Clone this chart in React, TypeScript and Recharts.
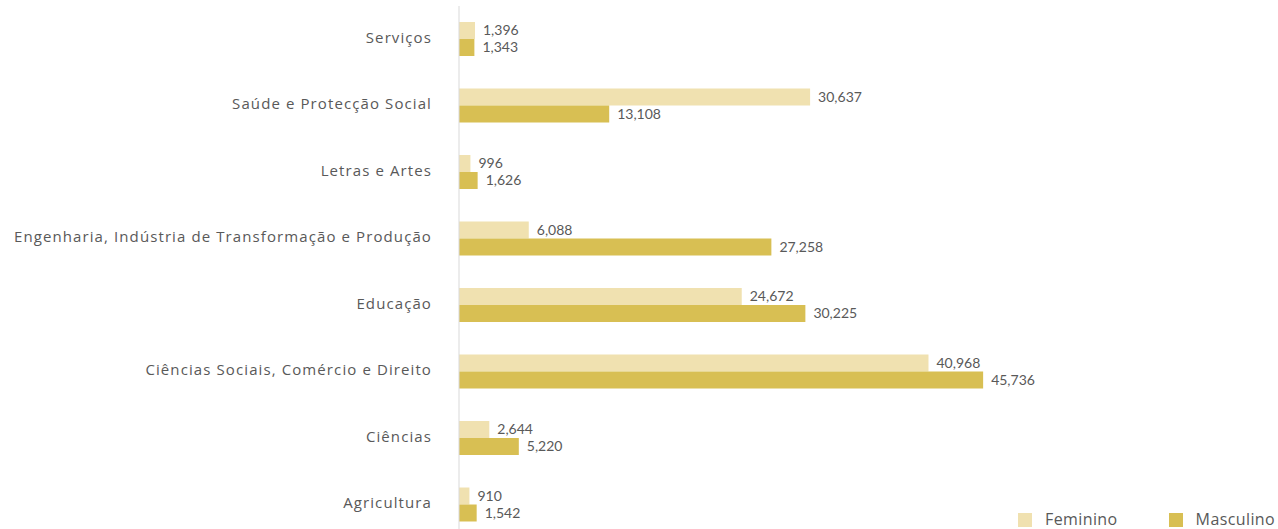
import { BarChart, Bar, XAxis, YAxis, LabelList } from 'recharts'

const categorias = [
  'Serviços',
  'Saúde e Protecção Social',
  'Letras e Artes',
  'Engenharia, Indústria de Transformação e Produção',
  'Educação',
  'Ciências Sociais, Comércio e Direito',
  'Ciências',
  'Agricultura',
]
const feminino = [1396, 30637, 996, 6088, 24672, 40968, 2644, 910]
const masculino = [1343, 13108, 1626, 27258, 30225, 45736, 5220, 1542]

const series = [
  { key: 'feminino', name: 'Feminino', color: '#f0e1b0' },
  { key: 'masculino', name: 'Masculino', color: '#d8bf53' },
]

const data = categorias.map((c, i) => ({
  categoria: c,
  feminino: feminino[i],
  masculino: masculino[i],
}))

const font = '"Open Sans", "Noto Sans", sans-serif'
const labelFont = 'Lato, "Noto Sans", sans-serif'
const fmt = (v: number) => v.toLocaleString('en-US')

export default function App() {
  return (
    <div
      style={{
        position: 'absolute',
        left: 0,
        top: 0,
        width: 1278,
        height: 529,
        overflow: 'hidden',
        background: '#fff',
        fontFamily: font,
      }}
    >
      <BarChart
        width={1278}
        height={540}
        data={data}
        layout="vertical"
        margin={{ top: 6, right: 246, left: 0, bottom: 2 }}
        barGap={0}
        barSize={17}
      >
        <XAxis type="number" domain={[0, 50000]} hide />
        <YAxis
          type="category"
          dataKey="categoria"
          width={459}
          tickLine={false}
          tickSize={0}
          tickMargin={27}
          stroke="#d9d9d9"
          tick={{ fill: '#595959', fontSize: 15, fontFamily: font, letterSpacing: 1.1, dy: -2 }}
          interval={0}
        />
        {series.map((s) => (
          <Bar key={s.key} dataKey={s.key} name={s.name} fill={s.color} isAnimationActive={false}>
            <LabelList
              dataKey={s.key}
              position="right"
              offset={8}
              formatter={(v: any) => fmt(Number(v))}
              style={{ fill: '#595959', fontSize: 14, fontFamily: labelFont }}
            />
          </Bar>
        ))}
      </BarChart>
      <div
        style={{
          position: 'absolute',
          left: 1018,
          top: 511,
          display: 'flex',
          alignItems: 'center',
          fontSize: 16,
          lineHeight: '17px',
          letterSpacing: 0.4,
          color: '#595959',
        }}
      >
        {series.map((s, i) => (
          <div key={s.key} style={{ display: 'flex', alignItems: 'center', marginRight: i === 0 ? 51 : 0 }}>
            <span style={{ width: 14, height: 14, background: s.color, display: 'inline-block', marginRight: 13 }} />
            <span>{s.name}</span>
          </div>
        ))}
      </div>
    </div>
  )
}
